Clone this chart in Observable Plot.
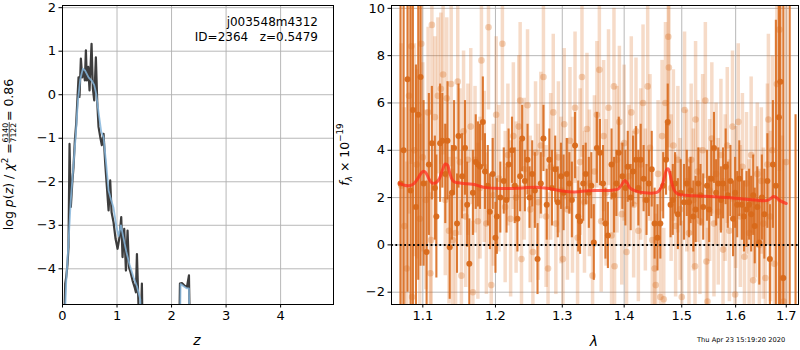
<!DOCTYPE html>
<html><head><meta charset="utf-8">
<script src="https://cdn.jsdelivr.net/npm/d3@7"></script>
<script src="https://cdn.jsdelivr.net/npm/@observablehq/plot@0.6"></script>
<style>
body{margin:0;background:#fff;}
#wrap{position:relative;width:800px;height:350px;font-family:"DejaVu Sans";}
#wrap > svg{position:absolute;}
</style></head><body><div id="wrap"></div>
<script>
// ---------- left panel: log p(z) ----------
const zTicks = [0, 1, 2, 3, 4];
const lpTicks = [-4, -3, -2, -1, 0, 1, 2];
const pzZ = [0.019,0.05,0.068,0.092,0.11,0.129,0.153,0.178,0.202,0.227,0.251,0.276,0.294,0.312,0.337,0.361,0.386,0.41,0.429,0.447,0.472,0.496,0.533,0.557,0.582,0.612,0.637,0.661,0.692,0.722,0.753,0.784,0.814,0.845,0.875,0.9,0.936,0.973,1.01,1.046,1.077,1.101,1.132,1.163,1.193,1.218,1.248,1.285,1.322,1.346,1.365,1.389,1.42,1.456,1.475,2.135,2.154,2.19,2.233,2.282,2.319,2.343];
const pzLog = [-6,-4.34,-4.19,-3.89,-3.5,-1.13,-2.58,-2.05,-1.66,-1.05,-0.67,-0.05,0.4,-0.05,0.83,0.4,0.56,0.33,1.02,0.33,0.64,0.1,1.17,0.14,-0.13,0.86,-0.16,-0.74,-0.97,-1.16,-0.9,-1.59,-2.12,-2.66,-1.97,-2.7,-2.93,-3.31,-3.54,-3.27,-2.81,-3.73,-3.08,-4.04,-3.12,-3.96,-4.08,-4.27,-4.42,-4.54,-3.66,-4.65,-6,-4.34,-6,-6,-4.34,-4.33,-4.38,-4.42,-4.15,-6];
const smZ = [0.019,0.068,0.11,0.153,0.202,0.245,0.282,0.325,0.374,0.417,0.478,0.539,0.582,0.618,0.661,0.71,0.753,0.802,0.845,0.888,0.936,0.985,1.028,1.071,1.12,1.169,1.23,1.303,1.365,1.426,1.462,2.148,2.166,2.221,2.282,2.319,2.337];
const smLog = [-6,-4.3,-3.4,-2.4,-1.6,-0.9,-0.15,0.35,0.6,0.55,0.4,0.32,0.22,0.02,-0.4,-0.85,-0.98,-1.6,-2.2,-2.4,-2.6,-3.0,-3.25,-3.0,-3.3,-3.6,-3.9,-4.2,-4.4,-4.7,-6,-6,-4.35,-4.4,-4.45,-4.45,-6];

// ---------- right panel: spectrum ----------
const lamTicks = [1.1, 1.2, 1.3, 1.4, 1.5, 1.6, 1.7];
const fTicks = [-2, 0, 2, 4, 6, 8, 10];
const dkWave = [1.071,1.075,1.080,1.084,1.087,1.091,1.094,1.097,1.101,1.105,
1.108,1.112,1.116,1.118,1.123,1.126,1.130,1.133,1.136,1.139,
1.142,1.146,1.148,1.153,1.157,1.160,1.163,1.168,1.172,1.175,
1.178,1.182,1.185,1.189,1.192,1.196,1.200,1.202,1.207,1.212,
1.216,1.219,1.224,1.228,1.232,1.236,1.239,1.243,1.247,1.250,
1.254,1.258,1.262,1.267,1.271,1.276,1.280,1.284,1.289,1.293,
1.298,1.302,1.307,1.311,1.315,1.320,1.325,1.328,1.333,1.337,
1.342,1.346,1.350,1.355,1.360,1.365,1.369,1.373,1.379,1.383,
1.387,1.391,1.397,1.402,1.406,1.411,1.415,1.420,1.424,1.428,
1.433,1.438,1.442,1.447,1.452,1.457,1.462,1.467,1.472,1.475,
1.480,1.484,1.488,1.493,1.498,1.504,1.509,1.513,1.516,1.521,
1.525,1.530,1.534,1.539,1.546,1.550,1.554,1.559,1.563,1.567,
1.572,1.576,1.581,1.585,1.590,1.595,1.599,1.603,1.607,1.612,
1.616,1.621,1.626,1.630,1.634,1.637,1.642,1.646,1.651,1.656,
1.662,1.667,1.673,1.679,1.685,1.688,1.694,1.707,1.719];
const dkFlux = [2.6,4.0,7.0,2.3,5.7,1.6,5.5,7.1,2.6,-0.3,
3.4,4.3,2.4,1.2,4.3,4.4,3.0,4.4,-0.1,2.2,
4.1,0.9,4.6,2.9,4.1,1.7,-0.8,2.2,3.5,3.4,
3.3,5.2,3.1,2.5,1.4,3.0,0.3,1.2,2.0,2.7,
1.9,3.4,4.0,2.5,1.1,2.9,4.5,2.7,3.6,2.0,
3.0,2.3,-0.6,2.6,4.5,1.7,3.6,2.4,3.2,1.8,
2.9,2.2,3.0,2.6,1.9,4.2,1.2,1.0,2.6,3.0,
2.2,2.5,0.1,4.1,3.9,2.6,0.9,0.4,3.4,2.1,
2.6,3.9,2.9,2.4,3.3,2.0,3.1,3.6,2.4,3.6,
2.8,1.9,2.6,3.2,0.9,0.3,0.9,2.5,3.6,5.2,
1.7,1.9,2.6,1.3,2.2,1.8,2.6,1.8,2.3,1.2,
1.5,2.6,2.1,1.6,2.5,1.5,2.8,4.1,2.2,2.6,
1.9,2.6,3.3,2.1,2.7,1.1,2.2,1.7,2.8,1.7,
1.2,1.5,1.7,1.3,2.1,0.8,1.6,0.1,2.0,1.3,
2.7,-0.6,3.4,2.5,5.4,6.9,-1.4,-4.0,-5.0];
const dkErr = [9.5,9.0,9.0,8.0,8.5,6.0,7.0,8.0,3.5,3.0,
3.0,2.4,2.2,2.6,2.5,2.0,2.1,2.5,2.2,2.0,
2.0,2.1,2.2,1.8,2.0,1.8,1.9,1.8,2.0,1.8,
1.8,1.9,1.6,1.7,1.6,1.5,1.5,1.6,1.5,1.4,
1.4,1.5,1.4,1.6,1.4,1.5,1.4,1.3,1.5,1.3,
1.4,1.6,1.5,1.3,1.4,1.5,1.3,1.6,1.4,1.5,
1.4,1.6,1.5,1.3,1.6,1.4,1.5,1.4,1.6,1.3,
1.5,1.4,1.6,1.5,1.4,1.6,1.5,1.4,1.5,1.6,
1.4,1.5,1.4,1.6,1.5,1.4,1.5,1.4,1.6,1.5,
1.4,1.5,1.4,1.6,1.5,1.4,1.5,1.4,1.5,1.6,
1.4,1.5,1.3,1.5,1.4,1.6,1.4,1.5,1.4,1.5,
1.4,1.5,1.3,1.4,1.5,1.4,1.6,1.5,1.4,1.5,
1.4,1.5,1.6,1.4,1.5,1.6,1.5,1.4,1.6,1.5,
1.5,1.6,1.5,1.6,1.7,1.6,1.7,1.8,1.8,1.9,
2.0,2.3,2.7,7.0,9.0,11.0,12.0,16.0,10.5];
const ltWave = [1.072,1.076,1.079,1.082,1.085,1.086,1.089,1.092,1.096,1.098,
1.100,1.104,1.107,1.110,1.111,1.112,1.116,1.120,1.124,1.127,
1.130,1.132,1.135,1.138,1.140,1.144,1.147,1.150,1.152,1.155,
1.158,1.161,1.165,1.168,1.171,1.175,1.178,1.180,1.184,1.187,
1.190,1.194,1.197,1.201,1.205,1.210,1.214,1.218,1.222,1.226,
1.230,1.234,1.236,1.238,1.242,1.247,1.251,1.255,1.259,1.263,
1.267,1.271,1.275,1.278,1.282,1.286,1.290,1.294,1.298,1.301,
1.303,1.308,1.312,1.316,1.320,1.324,1.328,1.331,1.335,1.339,
1.343,1.348,1.351,1.355,1.359,1.362,1.366,1.370,1.374,1.379,
1.383,1.384,1.388,1.392,1.396,1.400,1.404,1.408,1.412,1.416,
1.420,1.424,1.428,1.432,1.436,1.440,1.444,1.448,1.452,1.454,
1.458,1.462,1.465,1.468,1.471,1.476,1.477,1.481,1.485,1.489,
1.493,1.497,1.500,1.505,1.509,1.513,1.517,1.521,1.524,1.525,
1.529,1.533,1.538,1.543,1.545,1.547,1.551,1.555,1.559,1.563,
1.567,1.572,1.576,1.580,1.584,1.588,1.594,1.599,1.600,1.605,
1.609,1.613,1.617,1.621,1.626,1.630,1.634,1.638,1.642,1.646,
1.650,1.654,1.658,1.662,1.664,1.668,1.672,1.676,1.681,1.686,
1.692,1.695,1.700];
const ltFlux = [2.5,0.8,-1.0,6.3,8.4,-2.2,4.0,3.4,1.1,8.5,
3.7,1.9,5.6,-1.2,0.2,9.3,5.4,6.3,6.6,7.2,
1.9,6.2,0.6,6.8,0.2,0.5,6.9,3.5,-1.3,4.8,
1.2,3.6,5.0,-2.0,3.6,1.0,2.4,7.8,3.3,0.9,
9.2,-1.7,2.1,5.5,2.8,8.5,1.6,3.8,1.1,4.6,
2.0,5.0,6.1,-0.6,3.2,5.9,1.5,-0.3,3.9,1.8,
4.2,7.1,1.2,-1.0,3.3,5.6,0.9,3.7,2.3,-0.6,
5.1,1.5,4.4,2.1,5.8,0.3,3.5,7.1,1.8,4.9,
2.6,-1.3,3.1,5.5,7.4,1.0,4.6,2.2,5.8,0.4,
6.7,-0.9,3.6,5.2,1.3,4.3,-0.3,2.9,5.6,1.7,
4.8,0.6,3.4,6.0,1.9,6.7,4.1,0.2,-1.0,-1.7,
3.0,-2.2,4.6,-2.3,6.0,8.8,7.5,2.4,4.2,0.8,
3.6,1.5,-2.2,5.7,2.7,0.5,3.6,1.9,-0.9,5.3,
3.1,1.0,4.0,6.1,-0.7,-2.4,2.3,4.5,0.9,3.0,
1.4,3.8,-0.2,2.4,4.2,0.6,5.0,-2.1,2.0,5.2,
1.2,3.3,-0.5,2.6,0.5,3.8,-1.5,1.8,3.0,0.0,
2.7,0.9,-1.4,3.4,5.3,1.2,4.0,-0.8,6.8,9.1,
-1.4,-2.4,3.5];
const ltErr = [6.0,5.0,4.5,5.0,5.0,4.5,4.5,4.0,4.0,4.5,
4.0,3.8,3.6,3.4,3.2,3.8,3.4,3.3,3.2,3.4,
3.2,3.4,3.1,3.5,3.0,3.2,3.3,3.1,3.2,3.4,
3.0,3.2,3.3,3.0,3.1,3.3,3.0,3.4,3.2,3.0,
3.5,3.1,3.0,3.3,3.1,3.4,3.2,3.0,3.3,3.1,
3.2,3.0,3.3,3.1,3.0,3.2,3.1,3.2,3.0,3.3,
3.1,3.4,3.0,3.2,3.1,3.3,3.0,3.2,3.1,3.0,
3.2,3.0,3.1,3.3,3.2,3.0,3.1,3.4,3.0,3.2,
3.1,3.0,3.2,3.1,3.5,3.0,3.2,3.1,3.3,3.0,
3.3,3.0,3.1,3.2,3.0,3.3,3.1,3.0,3.2,3.1,
3.1,3.0,3.2,3.3,3.0,3.4,3.1,3.0,3.1,3.0,
3.1,3.0,3.2,3.0,3.4,3.8,3.4,3.1,3.2,3.0,
3.1,3.0,3.2,3.3,3.0,3.1,3.2,3.0,3.1,3.3,
3.0,3.1,3.2,3.3,3.0,3.1,3.0,3.2,3.1,3.0,
3.1,3.2,3.0,3.1,3.3,3.0,3.2,3.1,3.0,3.3,
3.0,3.1,3.2,3.0,3.1,3.3,3.1,3.2,3.0,3.2,
3.1,3.2,3.3,3.4,3.6,3.6,4.0,4.2,5.0,6.0,
6.0,6.0,7.0];
const modelWave = [1.070,1.076,1.082,1.088,1.093,1.097,1.101,1.104,1.108,1.112,1.117,1.122,1.126,1.130,1.133,1.136,1.140,1.145,1.150,1.160,1.170,1.180,1.190,1.200,1.220,1.240,1.260,1.280,1.300,1.320,1.340,1.360,1.380,1.390,1.396,1.401,1.405,1.410,1.420,1.435,1.450,1.458,1.464,1.469,1.473,1.476,1.479,1.483,1.488,1.495,1.505,1.530,1.560,1.590,1.620,1.650,1.662,1.668,1.674,1.680,1.688,1.700];
const modelFlux = [2.60,2.52,2.50,2.58,2.78,3.00,3.11,3.05,2.80,2.62,2.62,2.80,3.15,3.42,3.38,3.05,2.72,2.63,2.62,2.58,2.55,2.46,2.41,2.39,2.38,2.41,2.44,2.38,2.28,2.24,2.29,2.30,2.31,2.36,2.55,2.72,2.62,2.40,2.27,2.20,2.19,2.25,2.45,2.85,3.18,3.21,3.00,2.55,2.25,2.13,2.10,2.07,2.04,1.99,1.93,1.87,1.88,1.95,2.05,2.00,1.86,1.75];

// ---------- build ----------
const wrap = document.getElementById("wrap");
const ORANGE = "#d8691a";
const GRID = "#b0b0b0";
const baseStyle = {fontFamily: "DejaVu Sans", fontSize: "13px", color: "black", background: "transparent", overflow: "visible"};

const pzData = pzZ.map((z, i) => ({z, v: pzLog[i]}));
const smData = smZ.map((z, i) => ({z, v: smLog[i]}));

const left = Plot.plot({
  width: 340, height: 350,
  marginLeft: 62, marginRight: 7, marginTop: 5, marginBottom: 46,
  style: baseStyle,
  x: {domain: [0, 4.97]},
  y: {domain: [-4.82, 2.05]},
  marks: [
    Plot.gridX(zTicks, {stroke: GRID, strokeOpacity: 1, strokeWidth: 0.9}),
    Plot.gridY(lpTicks, {stroke: GRID, strokeOpacity: 1, strokeWidth: 0.9}),
    Plot.line(pzData, {x: "z", y: "v", stroke: "#333333", strokeWidth: 2.2, strokeOpacity: 0.95, clip: true}),
    Plot.line(smData, {x: "z", y: "v", stroke: "#86b6dc", strokeWidth: 1.8, strokeOpacity: 0.85, clip: true}),
    Plot.frame({stroke: "black", strokeWidth: 1}),
    Plot.axisX(zTicks, {tickSize: 3.5, tickPadding: 3, label: null, tickFormat: d => String(d)}),
    Plot.axisY(lpTicks, {tickSize: 3.5, tickPadding: 3, label: null, tickFormat: d3.format("d")})
  ]
});
left.style.left = "0px"; left.style.top = "0px";
wrap.appendChild(left);

const dk = dkWave.map((w, i) => ({w, f: dkFlux[i], e: dkErr[i]}));
const lt = ltWave.map((w, i) => ({w, f: ltFlux[i], e: ltErr[i]}));
const md = modelWave.map((w, i) => ({w, f: modelFlux[i]}));

const right = Plot.plot({
  width: 460, height: 350,
  marginLeft: 51, marginRight: 2, marginTop: 5, marginBottom: 46,
  style: baseStyle,
  x: {type: "log", domain: [1.0595, 1.7251]},
  y: {domain: [-2.52, 10.12]},
  marks: [
    Plot.gridX(lamTicks, {stroke: GRID, strokeOpacity: 1, strokeWidth: 0.9}),
    Plot.gridY(fTicks, {stroke: GRID, strokeOpacity: 1, strokeWidth: 0.9}),
    Plot.ruleX(lt, {x: "w", y1: d => d.f - d.e, y2: d => d.f + d.e, stroke: ORANGE, strokeOpacity: 0.24, strokeWidth: 3.5, clip: true}),
    Plot.dot(lt, {x: "w", y: "f", r: 3.3, fill: ORANGE, fillOpacity: 0.3, stroke: "none", clip: true}),
    Plot.ruleX(dk, {x: "w", y1: d => d.f - d.e, y2: d => d.f + d.e, stroke: ORANGE, strokeOpacity: 0.88, strokeWidth: 2.1, clip: true}),
    Plot.dot(dk, {x: "w", y: "f", r: 3, fill: ORANGE, fillOpacity: 0.95, stroke: "none", clip: true}),
    Plot.line(md, {x: "w", y: "f", stroke: "#ff2a1a", strokeWidth: 3, strokeOpacity: 0.72, curve: "catmull-rom", clip: true}),
    Plot.ruleY([0], {stroke: "black", strokeWidth: 2, strokeDasharray: "1.8,2.6"}),
    Plot.frame({stroke: "black", strokeWidth: 1}),
    Plot.axisX(lamTicks, {tickSize: 3.5, tickPadding: 3, label: null, tickFormat: d3.format(".1f")}),
    Plot.axisY(fTicks, {tickSize: 3.5, tickPadding: 3, label: null, tickFormat: d3.format("d")})
  ]
});
right.style.left = "340px"; right.style.top = "0px";
wrap.appendChild(right);

// ---------- text overlay ----------
const ov = d3.select(wrap).append("svg")
  .attr("width", 800).attr("height", 350)
  .style("left", "0px").style("top", "0px")
  .style("pointer-events", "none")
  .attr("font-family", "DejaVu Sans").attr("fill", "black");

ov.append("text").attr("x", 318).attr("y", 26).attr("text-anchor", "end").attr("font-size", 12).text("j003548m4312");
ov.append("text").attr("x", 318).attr("y", 41).attr("text-anchor", "end").attr("font-size", 12)
  .style("white-space", "pre").text("ID=2364   z=0.5479");

ov.append("text").attr("x", 197).attr("y", 345).attr("text-anchor", "middle").attr("font-size", 14)
  .attr("font-style", "italic").text("z");
ov.append("text").attr("x", 594).attr("y", 346).attr("text-anchor", "middle").attr("font-size", 14)
  .attr("font-style", "italic").text("λ");

ov.append("text").attr("x", 697).attr("y", 342).attr("font-size", 6.7).text("Thu Apr 23 15:19:20 2020");

// left y label
(function(){
  const fs = 12.5;
  const g = ov.append("g").attr("font-size", fs).style("white-space", "pre");
  const t1 = g.append("text").attr("x", 0).attr("y", 0);
  t1.append("tspan").text("log ");
  t1.append("tspan").attr("font-style", "italic").text("p");
  t1.append("tspan").text("(");
  t1.append("tspan").attr("font-style", "italic").text("z");
  t1.append("tspan").text(") / ");
  t1.append("tspan").attr("font-style", "italic").text("χ");
  t1.append("tspan").attr("font-size", fs * 0.7).attr("dy", -fs * 0.42).text("2");
  t1.append("tspan").attr("dy", fs * 0.42).text(" = ");
  const w1 = t1.node().getComputedTextLength();
  const ffs = fs * 0.62;
  const num = g.append("text").attr("font-size", ffs).attr("text-anchor", "middle").text("6140");
  const den = g.append("text").attr("font-size", ffs).attr("text-anchor", "middle").text("7122");
  const fw = Math.max(num.node().getComputedTextLength(), den.node().getComputedTextLength()) + 1.5;
  const barY = -fs * 0.3;
  num.attr("x", w1 + fw / 2).attr("y", barY - 1.4);
  den.attr("x", w1 + fw / 2).attr("y", barY + 1.4 + ffs * 0.74);
  g.append("line").attr("x1", w1).attr("x2", w1 + fw).attr("y1", barY).attr("y2", barY)
    .attr("stroke", "black").attr("stroke-width", 0.7);
  const t3 = g.append("text").attr("x", w1 + fw + 1).attr("y", 0).text(" = 0.86");
  const W = w1 + fw + 1 + t3.node().getComputedTextLength();
  g.attr("transform", `translate(13,${154.5 + W / 2}) rotate(-90)`);
})();

// right y label
(function(){
  const fs = 12.5;
  const t = ov.append("text").attr("font-size", fs).attr("text-anchor", "middle")
    .style("white-space", "pre").attr("transform", "translate(349,154.5) rotate(-90)");
  t.append("tspan").attr("font-style", "italic").text("f");
  t.append("tspan").attr("font-style", "italic").attr("font-size", fs * 0.7).attr("dy", fs * 0.25).text("λ");
  t.append("tspan").attr("dy", -fs * 0.25).text(" × 10");
  t.append("tspan").attr("font-size", fs * 0.7).attr("dy", -fs * 0.45).text("−19");
})();
</script></body></html>
